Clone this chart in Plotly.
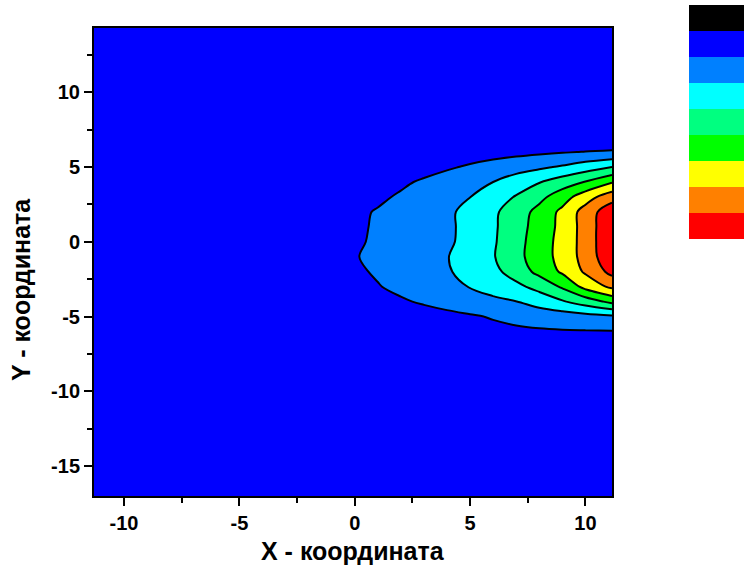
import plotly.graph_objects as go

# Grid coordinates of the sampled field
x_nodes = [-11.3, -1, 0, 1, 2, 3, 4, 5, 6, 7, 8, 9, 10, 11.15]
y_nodes = [-17.0, -7, -6, -5, -4, -3, -2, -1, 0, 1, 2, 3, 4, 5, 6, 7, 14.3]

# Field values, one row per y node (bottom to top)
z_rows = [
    [0, 0, 0, 0, 0, 0, 0, 0, 0, 0, 0, 0, 0, 0],
    [0, 0, 0, 0.05, 0.1, 0.15, 0.2, 0.25, 0.3, 0.33, 0.36, 0.38, 0.39, 0.4],
    [0, 0, 0.05, 0.15, 0.25, 0.35, 0.45, 0.55, 0.75, 0.85, 0.9, 0.93, 0.94, 0.95],
    [0, 0, 0.15, 0.3, 0.45, 0.6, 0.75, 0.9, 1.07, 1.22, 1.37, 1.51, 1.66, 1.83],
    [0, 0.24, 0.46, 0.67, 0.89, 1.11, 1.33, 1.54, 1.76, 1.98, 2.43, 2.9, 3.47, 4.25],
    [0, 0.41, 0.68, 0.95, 1.22, 1.49, 1.76, 2.04, 2.41, 2.78, 3.31, 4.14, 5.31, 6.22],
    [0, 0.57, 0.84, 1.11, 1.37, 1.64, 1.91, 2.3, 2.75, 3.41, 4.29, 5.15, 6.14, 7.3],
    [0, 0.7, 0.95, 1.2, 1.46, 1.71, 1.96, 2.43, 2.93, 3.71, 4.5, 5.35, 6.37, 7.8],
    [0, 0.64, 0.88, 1.13, 1.37, 1.62, 1.86, 2.27, 2.88, 3.67, 4.48, 5.35, 6.39, 7.9],
    [0, 0.6, 0.85, 1.1, 1.35, 1.6, 1.85, 2.24, 2.85, 3.6, 4.4, 5.28, 6.41, 7.85],
    [0, 0.55, 0.81, 1.07, 1.33, 1.59, 1.85, 2.24, 2.82, 3.52, 4.3, 5.24, 6.41, 7.7],
    [0, 0.25, 0.54, 0.83, 1.12, 1.41, 1.7, 1.99, 2.51, 3.07, 3.73, 4.55, 5.56, 6.57],
    [0, 0, 0.26, 0.55, 0.84, 1.13, 1.42, 1.71, 2.0, 2.48, 2.95, 3.5, 4.05, 4.91],
    [0, 0, 0, 0.17, 0.4, 0.64, 0.88, 1.12, 1.36, 1.6, 1.83, 2.12, 2.53, 3.0],
    [0, 0, 0.05, 0.15, 0.25, 0.35, 0.45, 0.55, 0.65, 0.75, 0.85, 0.95, 1.03, 1.1],
    [0, 0, 0, 0.05, 0.1, 0.12, 0.15, 0.18, 0.2, 0.22, 0.25, 0.27, 0.29, 0.3],
    [0, 0, 0, 0, 0, 0, 0, 0, 0, 0, 0, 0, 0, 0],
]

# Contour levels
level_start = 1
level_end = 8
level_step = 1

# Band colours, lowest band first
band_colors = ["#0000FF", "#0080FF", "#00FFFF", "#00FF80", "#00FF00",
               "#FFFF00", "#FF8000", "#FF0000", "#000000"]

# Colour key blocks, top to bottom
key_colors = ["#000000", "#0000FF", "#0080FF", "#00FFFF", "#00FF80",
              "#00FF00", "#FFFF00", "#FF8000", "#FF0000"]

x_ticks = [-10, -5, 0, 5, 10]
x_tick_text = ["-10", "-5", "0", "5", "10"]
y_ticks = [-15, -10, -5, 0, 5, 10]
y_tick_text = ["-15", "-10", "-5", "0", "5", "10"]
x_title = "X - координата"
y_title = "Y - координата"

W, H = 744, 575
L, R, T, B = 94, 612, 28, 496

n = len(band_colors)
contour_scale = [[i / (n - 1), c] for i, c in enumerate(band_colors)]

# stepped scale for the colour key (bottom block first)
key_bottom_up = key_colors[::-1]
m = len(key_bottom_up)
key_scale = []
for i, c in enumerate(key_bottom_up):
    key_scale.append([i / m, c])
    key_scale.append([(i + 1) / m, c])

fig = go.Figure()
fig.add_trace(go.Contour(
    x=x_nodes, y=y_nodes, z=z_rows,
    colorscale=contour_scale,
    autocontour=False,
    contours=dict(start=level_start, end=level_end, size=level_step, coloring="fill"),
    line=dict(color="black", width=2),
    showscale=False,
    hoverinfo="skip",
))

fig.add_trace(go.Scatter(
    x=[None], y=[None], mode="markers",
    marker=dict(
        color=[0], cmin=0, cmax=m, colorscale=key_scale, showscale=True,
        colorbar=dict(
            x=(689 - L) / (R - L), xanchor="left", xpad=0,
            y=(B - 5) / (B - T), yanchor="top", ypad=0,
            lenmode="pixels", len=234, thickness=60,
            outlinewidth=0, ticks="", showticklabels=False,
        ),
    ),
    showlegend=False, hoverinfo="skip",
))

axis_font = dict(family="Liberation Sans, Arial", size=20, color="black", weight="bold")
common = dict(
    showline=True, linewidth=2, linecolor="black", mirror=True,
    ticks="outside", ticklen=8, tickwidth=2, tickcolor="black",
    showgrid=False, zeroline=False, tickfont=axis_font,
    minor=dict(ticks="outside", ticklen=5, tickwidth=2, tickcolor="black", dtick=2.5),
)

fig.update_xaxes(range=[-11.3, 11.15], tickvals=x_ticks, ticktext=x_tick_text, **common)
fig.update_yaxes(range=[-17.0, 14.3], tickvals=y_ticks, ticktext=y_tick_text, **common)

title_font = dict(family="Liberation Sans, Arial", size=25, color="black", weight="bold")
fig.update_layout(
    width=W, height=H,
    margin=dict(l=L, r=W - R, t=T, b=H - B, autoexpand=False),
    paper_bgcolor="white", plot_bgcolor="white",
    showlegend=False,
    annotations=[
        dict(text=x_title, x=0.5, y=-(551 - B) / (B - T), xref="paper", yref="paper",
             xanchor="center", yanchor="middle", showarrow=False, font=title_font),
        dict(text=y_title, x=-(94 - 21) / (R - L), y=(B - 290) / (B - T),
             xref="paper", yref="paper", textangle=-90,
             xanchor="center", yanchor="middle", showarrow=False, font=title_font),
    ],
)

fig.write_html("out.html")
